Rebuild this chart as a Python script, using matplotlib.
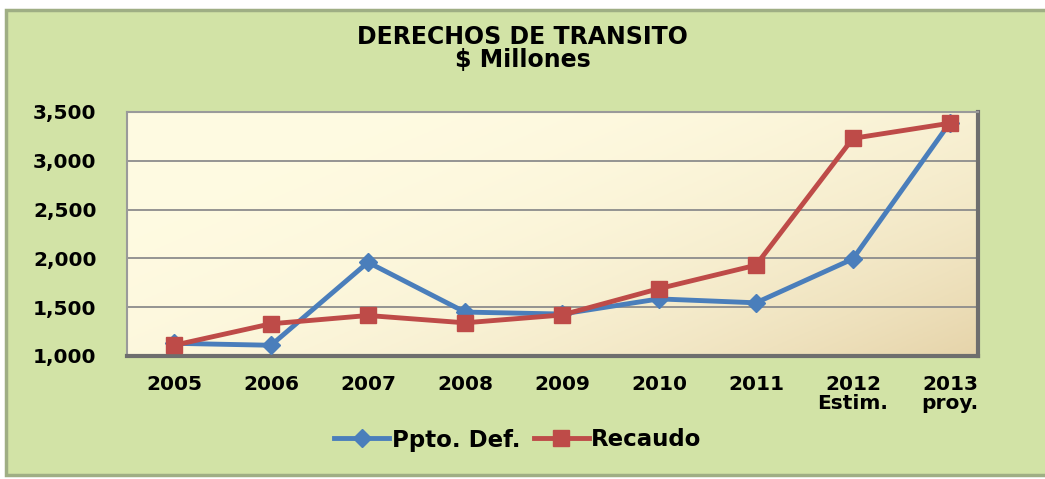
import matplotlib
matplotlib.use("Agg")
import matplotlib.pyplot as plt
import numpy as np
from matplotlib.patches import Rectangle

categories = ["2005", "2006", "2007", "2008", "2009", "2010", "2011", "2012\nEstim.", "2013\nproy."]
ppto_def = [1130, 1110, 1960, 1450, 1430, 1585, 1545, 1995, 3390]
recaudo = [1110, 1330, 1415, 1340, 1420, 1690, 1930, 3230, 3385]
yticks = [1000, 1500, 2000, 2500, 3000, 3500]

plt.rcParams['font.family'] = ['DejaVu Sans']

fig = plt.figure(figsize=(10.45, 4.79), dpi=100)
fig.patch.set_facecolor('white')
frame = Rectangle((6/1045, 4/479), 1045/1045, 465/479, transform=fig.transFigure,
                  facecolor='#d2e3a6', edgecolor='#9fae84', linewidth=2.5, zorder=-10)
fig.patches.append(frame)

ax = fig.add_axes([127/1045, 1 - 356/479, (978-127)/1045, (356-112)/479])
ax.set_zorder(5)
ax.set_facecolor('none')

gx, gy = np.meshgrid(np.linspace(0, 1, 200), np.linspace(0, 1, 100))
t = np.clip((gx * 0.6 + gy * 0.4), 0, 1) ** 2.6
c1 = np.array([255, 251, 226]) / 255
c2 = np.array([230, 212, 170]) / 255
img = c1[None, None, :] * (1 - t[..., None]) + c2[None, None, :] * t[..., None]
ax.imshow(img, extent=[0, 1, 0, 1], transform=ax.transAxes, aspect='auto', zorder=0)

x = np.arange(len(categories))
for v in yticks[1:-1]:
    ax.axhline(v, color='#8c8c8c', linewidth=1.3, zorder=1)

ax.plot(x, ppto_def, color='#4a7ebb', linewidth=3.5, marker='D', markersize=9,
        markerfacecolor='#4a7ebb', markeredgecolor='#4a7ebb', label='Ppto. Def.', zorder=3)
ax.plot(x, recaudo, color='#be4b48', linewidth=3.5, marker='s', markersize=11,
        markerfacecolor='#be4b48', markeredgecolor='#be4b48', label='Recaudo', zorder=3)

ax.set_xlim(-0.485, 8.29)
ax.set_ylim(1000, 3500)
ax.set_yticks(yticks)
ax.set_yticklabels([f"{v:,}" for v in yticks], fontsize=14.5, fontweight='bold')
ax.set_xticks(x)
ax.set_xticklabels(categories, fontsize=14.5, fontweight='bold', linespacing=1.0)
ax.tick_params(axis='x', length=0, pad=14)
ax.tick_params(axis='y', length=0, pad=22)
for s in ['top', 'left']:
    ax.spines[s].set_color('#9a9a9a')
    ax.spines[s].set_linewidth(1.5)
for s in ['bottom', 'right']:
    ax.spines[s].set_color('#6e6e6e')
    ax.spines[s].set_linewidth(3)

fig.text(0.5, 1 - 37/479, "DERECHOS DE TRANSITO", ha='center', va='center',
         fontsize=17, fontweight='bold')
fig.text(0.5, 1 - 60/479, "$ Millones", ha='center', va='center',
         fontsize=17, fontweight='bold')

leg = fig.legend(loc='center', bbox_to_anchor=(518/1045, 1 - 440/479), ncol=2,
                 frameon=False, handlelength=2.4, columnspacing=0.6,
                 handletextpad=0.1, prop={'weight': 'bold', 'size': 16.5})

fig.savefig("out.png", dpi=100, facecolor=fig.get_facecolor())
